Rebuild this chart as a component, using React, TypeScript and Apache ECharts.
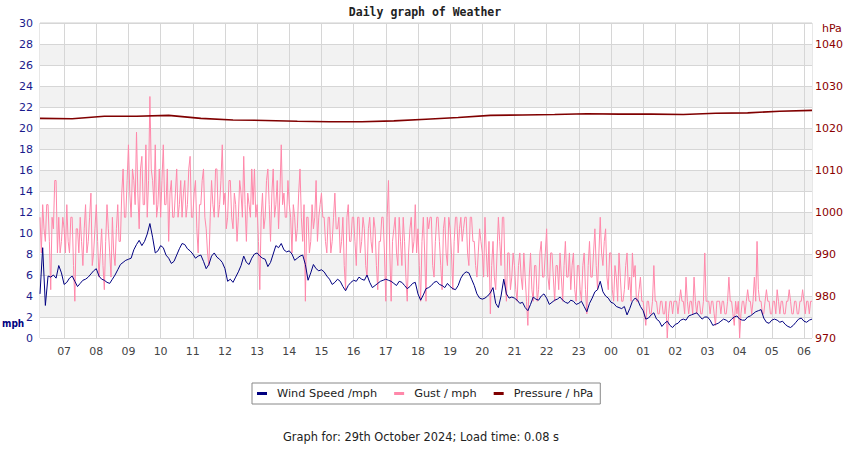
import React, { useEffect, useRef } from "react";
import * as echarts from "echarts";

// Gust samples every 2.5 minutes, from 06:15 (day 1) to 06:15 (day 2)
const START_SECOND = (6 * 60 + 15) * 60;
const STEP_SECONDS = 150;

const legendNames = ["Wind Speed /mph", "Gust / mph", "Pressure / hPa"];

// Gust, mph (one row per hour; first row 06:15-06:57, last row 06:00-06:15)
const gust = [
  11.5, 8.1, 12.7, 10.4, 9.2, 12.7, 12.7, 9.2, 4.6, 11.5, 10.4, 15.0, 15.0, 8.1, 11.5, 8.1, 9.2, 11.5,
  10.4, 8.1, 12.7, 9.2, 8.1, 11.5, 11.5, 6.9, 3.5, 10.4, 10.4, 8.1, 11.5, 9.2, 6.9, 10.4, 12.7, 8.1, 9.2, 11.5, 13.8, 6.9, 8.1, 10.4,
  12.7, 9.2, 5.8, 8.1, 10.4, 6.9, 4.6, 9.2, 12.7, 10.4, 8.1, 5.8, 11.5, 8.1, 6.9, 10.4, 12.7, 9.2, 9.2, 13.8, 16.1, 11.5, 11.5, 15.0,
  18.4, 13.8, 11.5, 16.1, 15.0, 12.7, 19.6, 13.8, 10.4, 16.1, 17.3, 12.7, 12.7, 18.4, 11.5, 15.0, 23.0, 16.1, 15.0, 12.7, 18.4, 11.5, 12.7, 16.1,
  11.5, 15.0, 18.4, 12.7, 12.7, 16.1, 9.2, 13.8, 15.0, 11.5, 11.5, 13.8, 16.1, 11.5, 12.7, 15.0, 11.5, 13.8, 15.0, 11.5, 12.7, 16.1, 17.3, 11.5,
  11.5, 13.8, 15.0, 10.4, 8.1, 12.7, 12.7, 15.0, 16.1, 11.5, 10.4, 8.1, 6.9, 11.5, 15.0, 12.7, 11.5, 16.1, 16.1, 11.5, 12.7, 15.0, 18.4, 12.7,
  13.8, 10.4, 11.5, 15.0, 15.0, 11.5, 10.4, 13.8, 12.7, 9.2, 11.5, 15.0, 13.8, 11.5, 17.3, 12.7, 9.2, 13.8, 12.7, 11.5, 16.1, 12.7, 16.1, 11.5,
  12.7, 9.2, 4.6, 11.5, 13.8, 10.4, 11.5, 15.0, 16.1, 12.7, 9.2, 13.8, 16.1, 11.5, 12.7, 15.0, 10.4, 13.8, 18.4, 12.7, 13.8, 11.5, 11.5, 15.0,
  12.7, 11.5, 8.1, 12.7, 11.5, 9.2, 10.4, 13.8, 16.1, 11.5, 9.2, 12.7, 3.5, 11.5, 11.5, 8.1, 9.2, 12.7, 10.4, 11.5, 15.0, 9.2, 11.5, 12.7,
  13.8, 11.5, 11.5, 9.2, 8.1, 11.5, 11.5, 8.1, 9.2, 11.5, 13.8, 10.4, 10.4, 11.5, 8.1, 9.2, 11.5, 6.9, 4.6, 11.5, 12.7, 9.2, 9.2, 11.5,
  11.5, 9.2, 6.9, 11.5, 11.5, 8.1, 9.2, 11.5, 10.4, 6.9, 5.8, 10.4, 11.5, 9.2, 8.1, 11.5, 10.4, 6.9, 4.6, 9.2, 9.2, 11.5, 11.5, 8.1,
  3.5, 11.5, 15.0, 8.1, 3.5, 9.2, 10.4, 11.5, 8.1, 6.9, 11.5, 9.2, 6.9, 11.5, 9.2, 5.8, 3.5, 8.1, 10.4, 11.5, 8.1, 9.2, 12.7, 8.1,
  10.4, 6.9, 3.5, 9.2, 11.5, 8.1, 3.5, 11.5, 10.4, 11.5, 11.5, 6.9, 5.8, 9.2, 11.5, 11.5, 9.2, 6.9, 4.6, 10.4, 11.5, 8.1, 6.9, 11.5,
  10.4, 8.1, 4.6, 9.2, 11.5, 11.5, 8.1, 10.4, 11.5, 9.2, 10.4, 11.5, 11.5, 8.1, 6.9, 11.5, 11.5, 9.2, 9.2, 6.9, 5.8, 8.1, 10.4, 9.2,
  8.1, 5.8, 11.5, 8.1, 5.8, 9.2, 2.3, 6.9, 9.2, 5.8, 4.6, 8.1, 11.5, 9.2, 6.9, 11.5, 11.5, 5.8, 3.5, 8.1, 8.1, 4.6, 5.8, 8.1,
  6.9, 4.6, 3.5, 6.9, 8.1, 5.8, 4.6, 8.1, 5.8, 3.5, 1.2, 5.8, 8.1, 4.6, 3.5, 6.9, 6.9, 3.5, 4.6, 8.1, 9.2, 5.8, 5.8, 8.1,
  10.4, 5.8, 4.6, 8.1, 8.1, 5.8, 3.5, 6.9, 6.9, 4.6, 8.1, 5.8, 3.5, 6.9, 9.2, 5.8, 5.8, 8.1, 4.6, 6.9, 8.1, 4.6, 3.5, 6.9,
  6.9, 4.6, 3.5, 6.9, 8.1, 4.6, 2.3, 6.9, 9.2, 5.8, 5.8, 8.1, 10.4, 6.9, 4.6, 8.1, 11.5, 8.1, 6.9, 9.2, 10.4, 5.8, 4.6, 8.1,
  8.1, 4.6, 3.5, 6.9, 5.8, 3.5, 8.1, 5.8, 3.5, 3.5, 4.6, 6.9, 8.1, 4.6, 5.8, 3.5, 8.1, 5.8, 6.9, 3.5, 3.5, 4.6, 5.8, 3.5,
  3.5, 2.3, 1.2, 3.5, 3.5, 2.3, 2.3, 3.5, 6.9, 3.5, 3.5, 2.3, 2.3, 3.5, 3.5, 2.3, 2.3, 3.5, 0.0, 2.3, 3.5, 3.5, 2.3, 3.5,
  3.5, 3.5, 2.3, 3.5, 4.6, 3.5, 3.5, 2.3, 5.8, 3.5, 2.3, 3.5, 3.5, 2.3, 5.8, 3.5, 2.3, 3.5, 3.5, 2.3, 2.3, 3.5, 8.1, 3.5,
  3.5, 3.5, 2.3, 3.5, 3.5, 2.3, 1.2, 3.5, 3.5, 3.5, 2.3, 3.5, 3.5, 2.3, 2.3, 3.5, 5.8, 3.5, 3.5, 2.3, 1.2, 3.5, 2.3, 3.5,
  0.0, 2.3, 3.5, 3.5, 2.3, 3.5, 4.6, 3.5, 3.5, 2.3, 3.5, 5.8, 3.5, 9.2, 4.6, 3.5, 3.5, 2.3, 2.3, 3.5, 4.6, 3.5, 3.5, 2.3,
  2.3, 3.5, 3.5, 2.3, 4.6, 3.5, 2.3, 3.5, 3.5, 2.3, 2.3, 3.5, 3.5, 4.6, 3.5, 2.3, 2.3, 3.5, 3.5, 2.3, 2.3, 3.5, 3.5, 4.6,
  3.5, 2.3, 3.5, 3.5, 2.3, 3.5, 3.5,
];

// Wind speed, mph, every 5 minutes (one row per hour; 06:15 .. 06:15)
const windSpeed = [
  4.2, 8.6, 3.1, 5.9, 5.8, 6.0, 5.7, 6.9, 6.2,
  5.1, 5.3, 5.7, 5.9, 5.4, 4.9, 5.2, 5.5, 5.6, 5.8, 6.1, 6.4,
  6.6, 5.9, 5.6, 5.5, 5.3, 5.2, 5.6, 6.0, 6.5, 7.0, 7.2, 7.4,
  7.5, 7.6, 8.4, 8.9, 9.3, 8.8, 9.2, 9.9, 10.9, 9.6, 8.1, 8.3,
  8.8, 8.6, 7.9, 7.6, 7.1, 7.3, 7.9, 8.5, 9.0, 8.9, 8.5, 8.3,
  8.0, 7.6, 7.8, 7.9, 7.3, 6.6, 7.0, 7.8, 8.1, 7.7, 7.5, 7.2,
  6.6, 5.4, 5.6, 5.3, 5.8, 6.3, 6.9, 7.8, 7.2, 7.0, 7.6, 8.0,
  8.1, 7.8, 7.6, 7.5, 6.8, 7.2, 8.0, 8.8, 8.6, 9.0, 8.4, 8.2,
  8.3, 8.0, 7.4, 7.6, 7.8, 7.9, 7.0, 5.5, 6.2, 7.0, 6.6, 6.4,
  6.5, 6.3, 5.9, 5.6, 5.1, 5.3, 5.6, 5.4, 4.9, 4.5, 5.0, 5.3,
  5.5, 5.4, 5.8, 5.6, 5.5, 6.0, 5.3, 4.8, 5.0, 5.2, 5.4, 5.5,
  5.6, 5.5, 5.4, 5.2, 5.0, 5.4, 5.3, 5.0, 4.7, 4.9, 5.2, 5.3,
  4.2, 3.6, 4.1, 4.7, 4.8, 5.0, 5.3, 5.4, 5.1, 5.0, 4.8, 5.2,
  4.9, 4.7, 4.6, 5.0, 5.7, 6.1, 6.3, 6.2, 5.6, 5.0, 4.2, 3.8,
  3.7, 3.8, 4.0, 4.3, 4.8, 3.3, 2.9, 4.0, 5.6, 4.2, 3.8, 3.9,
  3.8, 3.6, 3.3, 3.4, 2.9, 2.6, 3.2, 3.9, 3.7, 3.6, 4.0, 4.2,
  3.8, 3.2, 3.4, 3.6, 3.7, 3.9, 3.6, 3.4, 3.3, 3.6, 3.5, 3.2,
  3.3, 3.5, 3.0, 2.5, 3.3, 3.8, 4.4, 4.6, 5.4, 4.4, 4.0, 3.8,
  3.4, 3.3, 3.0, 2.9, 2.8, 3.0, 2.2, 2.8, 3.5, 3.8, 3.6, 3.0,
  2.6, 1.8, 1.9, 2.2, 2.4, 1.8, 1.6, 1.1, 1.4, 1.6, 1.2, 1.0,
  1.3, 1.4, 1.7, 1.8, 1.7, 2.1, 2.2, 2.3, 2.4, 2.1, 1.8, 2.0,
  2.0, 1.7, 1.2, 1.3, 1.4, 1.6, 1.8, 1.7, 1.5, 1.8, 2.0, 2.1,
  1.8, 1.7, 1.7, 2.0, 2.1, 2.3, 2.5, 2.6, 2.7, 1.9, 1.5, 1.4,
  1.7, 1.8, 1.7, 1.5, 1.6, 1.3, 1.1, 1.0, 1.2, 1.5, 1.8, 1.9,
  1.6, 1.5, 1.7, 1.8,
];

// Pressure, hPa, hourly at :15 (06:15 .. 06:15)
const pressure = [
  1022.3, 1022.2, 1022.8, 1022.8, 1023.0, 1022.3, 1021.9, 1021.8, 1021.6,
  1021.5, 1021.5, 1021.7, 1022.1, 1022.5, 1023.0, 1023.1, 1023.2, 1023.4,
  1023.3, 1023.3, 1023.2, 1023.5, 1023.6, 1024.0, 1024.2,
];

const WIND_STEP = 2; // 5 min in 2.5-minute samples
const PRESSURE_STEP = 24; // 1 hour in 2.5-minute samples

function buildTimes(n: number): string[] {
  const out: string[] = [];
  for (let i = 0; i < n; i++) {
    const s = (START_SECOND + i * STEP_SECONDS) % 86400;
    const hh = String(Math.floor(s / 3600)).padStart(2, "0");
    const mm = String(Math.floor((s % 3600) / 60)).padStart(2, "0");
    const ss = String(s % 60).padStart(2, "0");
    out.push(hh + ":" + mm + ":" + ss);
  }
  return out;
}

const times = buildTimes(gust.length);
const FONT = "DejaVu Sans";

export default function App() {
  const ref = useRef<HTMLDivElement>(null);

  useEffect(() => {
    if (!ref.current) return;
    const chart = echarts.init(ref.current, undefined, { renderer: "svg" });
    const onHour = (_i: number, v: string) => v.endsWith(":00:00");

    chart.setOption({
      animation: false,
      backgroundColor: "#ffffff",
      title: {
        text: "Daily graph of Weather",
        left: "center",
        top: 6,
        padding: 0,
        textStyle: {
          fontFamily: "DejaVu Sans Mono",
          fontWeight: "bold",
          fontSize: 11.5,
          color: "#222",
        },
      },
      legend: {
        data: legendNames,
        left: 252,
        top: 383,
        icon: "rect",
        itemWidth: 10,
        itemHeight: 3,
        itemGap: 17,
        padding: [5, 7, 5, 5],
        borderColor: "#888",
        borderWidth: 1,
        textStyle: {
          fontFamily: FONT,
          fontSize: 11.3,
          color: "#222",
          padding: [0, 0, 0, 5],
        },
      },
      grid: {
        left: 40,
        right: 38,
        top: 23,
        bottom: 112,
        show: true,
        borderColor: "#cfcfcf",
        borderWidth: 1,
        backgroundColor: "transparent",
      },
      xAxis: {
        type: "category",
        data: times,
        boundaryGap: false,
        axisLine: { show: false },
        axisTick: { show: false },
        axisLabel: {
          interval: onHour,
          formatter: (v: string) => v.slice(0, 2),
          color: "#444",
          fontFamily: FONT,
          fontSize: 11,
          margin: 8,
        },
        splitLine: {
          show: true,
          interval: onHour,
          lineStyle: { color: "#d6d6d6", width: 1 },
        },
      },
      yAxis: [
        {
          type: "value",
          position: "left",
          min: 0,
          max: 30,
          interval: 2,
          axisLine: { show: false },
          axisTick: { show: false },
          axisLabel: {
            color: "#1a1a8c",
            fontFamily: FONT,
            fontSize: 11,
            margin: 7,
          },
          splitLine: { show: true, lineStyle: { color: "#d6d6d6", width: 1 } },
          splitArea: {
            show: true,
            areaStyle: { color: ["#ffffff", "#f2f2f2"] },
          },
        },
        {
          type: "value",
          position: "right",
          min: 970,
          max: 1045,
          interval: 10,
          axisLine: { show: false },
          axisTick: { show: false },
          axisLabel: {
            color: "#8b0000",
            fontFamily: FONT,
            fontSize: 11,
            margin: 3,
            formatter: (v: number) => (Math.round(v) % 10 === 0 ? String(v) : ""),
          },
          splitLine: { show: false },
        },
      ],
      series: [
        {
          name: "Gust / mph",
          type: "line",
          data: gust,
          symbol: "none",
          lineStyle: { color: "#ff88aa", width: 1 },
          itemStyle: { color: "#ff88aa" },
        },
        {
          name: "Wind Speed /mph",
          type: "line",
          data: windSpeed.map((v, i) => [i * WIND_STEP, v]),
          symbol: "none",
          lineStyle: { color: "#000080", width: 1 },
          itemStyle: { color: "#000080" },
        },
        {
          name: "Pressure / hPa",
          type: "line",
          yAxisIndex: 1,
          data: pressure.map((v, i) => [i * PRESSURE_STEP, v]),
          symbol: "none",
          lineStyle: { color: "#800000", width: 1.6 },
          itemStyle: { color: "#800000" },
        },
      ],
      graphic: [
        {
          type: "text",
          left: 2,
          top: 318,
          style: {
            text: "mph",
            fontFamily: "DejaVu Sans Condensed",
            fontWeight: "bold",
            fontSize: 10,
            fill: "#000080",
          },
        },
        {
          type: "text",
          left: 822,
          top: 23,
          style: {
            text: "hPa",
            fontFamily: FONT,
            fontSize: 11,
            fill: "#8b0000",
          },
        },
        {
          type: "text",
          left: 283,
          top: 431,
          style: {
            text: "Graph for: 29th October 2024; Load time: 0.08 s",
            fontFamily: FONT,
            fontSize: 11.4,
            fill: "#222",
          },
        },
      ],
    });

    return () => chart.dispose();
  }, []);

  return (
    <div
      ref={ref}
      style={{ position: "fixed", left: 0, top: 0, width: 850, height: 450 }}
    />
  );
}
